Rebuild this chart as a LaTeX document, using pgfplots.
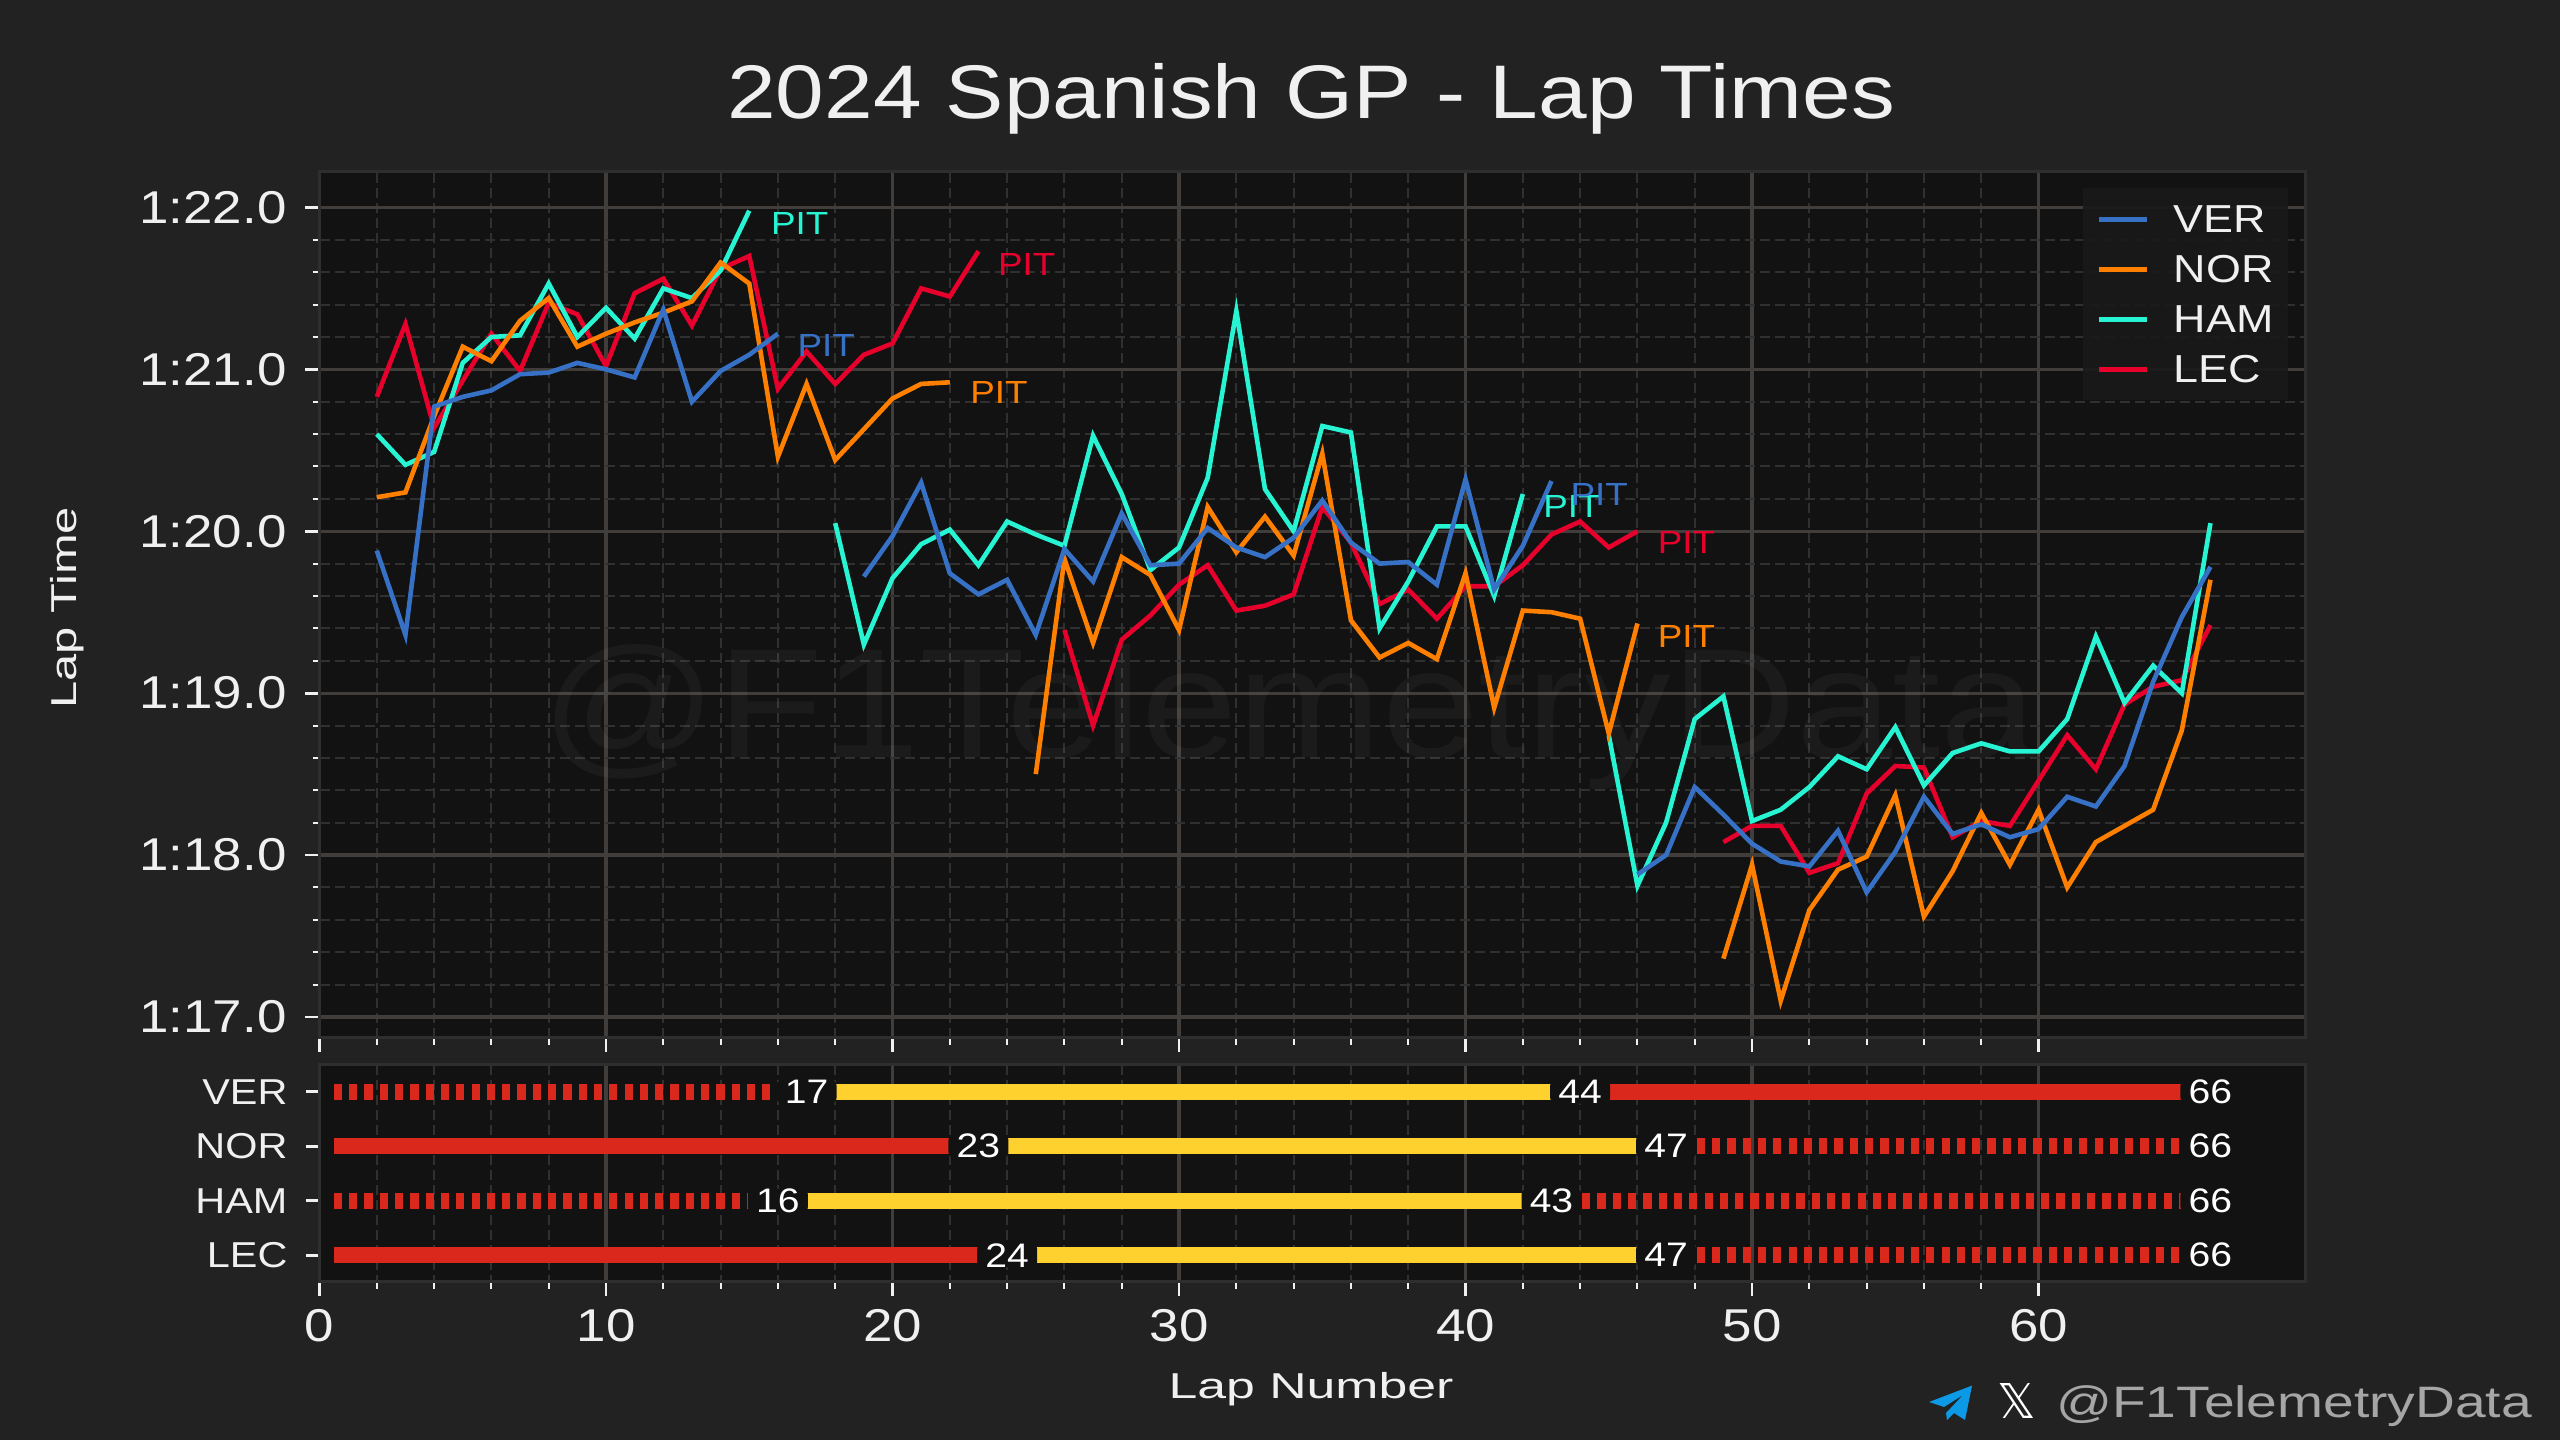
\documentclass[border=0pt]{standalone}
\usepackage{fontspec}
\usepackage{pgfplots}
\usepackage{pgfplotstable}
\pgfplotsset{compat=1.18}
\setmainfont[FakeStretch=1.15]{Liberation Sans}
\newfontfamily\dejavu{DejaVu Sans}

\definecolor{bg}{HTML}{222222}
\definecolor{panel}{HTML}{121212}
\definecolor{frame}{HTML}{2E2E2E}
\definecolor{gridmaj}{HTML}{403D3A}
\definecolor{gridmin}{HTML}{303030}
\definecolor{txt}{HTML}{F0F0F0}
\definecolor{vercol}{HTML}{3671C6}
\definecolor{norcol}{HTML}{FF8000}
\definecolor{hamcol}{HTML}{27F4D2}
\definecolor{leccol}{HTML}{E8002D}
\definecolor{softred}{HTML}{DA291C}
\definecolor{medyel}{HTML}{FFD12E}
\definecolor{tgblue}{HTML}{0C9AE6}

\newcommand{\fs}[1]{\fontsize{#1}{#1}\selectfont}

% lap times in seconds, nan = stint break
\pgfplotstableread{
lap t
2 79.88
3 79.36
4 80.77
5 80.83
6 80.87
7 80.97
8 80.98
9 81.04
10 81.00
11 80.95
12 81.37
13 80.80
14 80.99
15 81.09
16 81.22
17 nan
19 79.72
20 79.97
21 80.30
22 79.74
23 79.61
24 79.70
25 79.36
26 79.89
27 79.69
28 80.11
29 79.79
30 79.80
31 80.02
32 79.90
33 79.84
34 79.96
35 80.19
36 79.93
37 79.80
38 79.81
39 79.67
40 80.32
41 79.64
42 79.91
43 80.31
44 nan
46 77.88
47 78.00
48 78.42
49 78.25
50 78.07
51 77.96
52 77.93
53 78.15
54 77.77
55 78.02
56 78.36
57 78.13
58 78.19
59 78.11
60 78.16
61 78.36
62 78.30
63 78.55
64 79.07
65 79.47
66 79.78
}\ver

\pgfplotstableread{
lap t
2 80.21
3 80.24
4 80.71
5 81.14
6 81.05
7 81.30
8 81.44
9 81.14
10 81.22
11 81.29
12 81.35
13 81.42
14 81.66
15 81.53
16 80.46
17 80.91
18 80.44
19 80.63
20 80.82
21 80.91
22 80.92
23 nan
25 78.50
26 79.83
27 79.31
28 79.84
29 79.73
30 79.39
31 80.15
32 79.87
33 80.09
34 79.85
35 80.48
36 79.45
37 79.22
38 79.31
39 79.21
40 79.74
41 78.91
42 79.51
43 79.50
44 79.46
45 78.75
46 79.43
47 nan
49 77.36
50 77.94
51 77.10
52 77.66
53 77.91
54 77.99
55 78.37
56 77.62
57 77.90
58 78.26
59 77.94
60 78.28
61 77.80
62 78.08
63 78.18
64 78.28
65 78.77
66 79.70
}\nor

\pgfplotstableread{
lap t
2 80.60
3 80.41
4 80.49
5 81.04
6 81.20
7 81.21
8 81.53
9 81.20
10 81.38
11 81.19
12 81.50
13 81.44
14 81.61
15 81.98
16 nan
18 80.05
19 79.30
20 79.71
21 79.92
22 80.01
23 79.79
24 80.06
25 79.98
26 79.91
27 80.59
28 80.23
29 79.76
30 79.90
31 80.33
32 81.36
33 80.26
34 80.00
35 80.65
36 80.61
37 79.40
38 79.69
39 80.03
40 80.03
41 79.60
42 80.23
43 nan
45 78.74
46 77.81
47 78.20
48 78.84
49 78.98
50 78.21
51 78.28
52 78.42
53 78.61
54 78.53
55 78.79
56 78.43
57 78.63
58 78.69
59 78.64
60 78.64
61 78.84
62 79.35
63 78.94
64 79.17
65 79.00
66 80.05
}\ham

\pgfplotstableread{
lap t
2 80.83
3 81.28
4 80.64
5 80.93
6 81.22
7 80.99
8 81.41
9 81.34
10 81.02
11 81.47
12 81.56
13 81.27
14 81.62
15 81.70
16 80.88
17 81.11
18 80.91
19 81.09
20 81.16
21 81.50
22 81.45
23 81.73
24 nan
26 79.39
27 78.80
28 79.33
29 79.48
30 79.67
31 79.79
32 79.51
33 79.54
34 79.61
35 80.15
36 79.93
37 79.55
38 79.64
39 79.46
40 79.66
41 79.66
42 79.79
43 79.98
44 80.06
45 79.90
46 80.00
47 nan
49 78.08
50 78.18
51 78.18
52 77.89
53 77.95
54 78.38
55 78.55
56 78.54
57 78.11
58 78.21
59 78.18
60 78.46
61 78.74
62 78.53
63 78.93
64 79.04
65 79.08
66 79.42
}\lec

% stints: row 0 VER, 1 NOR, 2 HAM, 3 LEC
\pgfplotstableread{
lap row
0.5 1
23 1
nan nan
0.5 3
24 3
nan nan
44 0
66 0
}\softsolid
\pgfplotstableread{
lap row
17 0
44 0
nan nan
23 1
47 1
nan nan
16 2
43 2
nan nan
24 3
47 3
}\medium
\pgfplotstableread{
lap row
0.5 0
17 0
nan nan
47 1
66 1
nan nan
0.5 2
16 2
nan nan
43 2
66 2
nan nan
47 3
66 3
}\hatched

\pgfplotsset{
  f1axis/.style={
    scale only axis,
    width=992.75pt,
    anchor=south west,
    xmin=0, xmax=69.3,
    xtick={0,10,...,60},
    minor x tick num=4,
    axis background/.style={fill=panel},
    axis line style={draw=frame,line width=1.5pt},
    tick align=outside,
    xtick pos=bottom, ytick pos=left,
    tick style={color=txt},
    major tick length=7pt,
    minor tick length=3.5pt,
    every major tick/.append style={line width=1.4pt},
    every minor tick/.append style={line width=1pt},
    major grid style={draw=gridmaj,line width=1.6pt},
    minor grid style={draw=gridmin,line width=1pt,dash pattern=on 5pt off 2.5pt},
    xmajorgrids, xminorgrids,
    /pgf/number format/assume math mode=true,
    ticklabel style={text=txt},
    unbounded coords=jump,
  },
}

\begin{document}
\begin{tikzpicture}
\fill[bg,use as bounding box] (0pt,0pt) rectangle (1280pt,720pt);

\node[text=txt,font=\fs{38}] at (655.5pt,670.5pt) {2024 Spanish GP - Lap Times};
\node[text=txt,font=\fs{18},rotate=90,xscale=1.18] at (33.5pt,416pt) {Lap Time};
\node[text=txt,font=\fs{18},xscale=1.25] at (655.5pt,25.5pt) {Lap Number};

\begin{axis}[
  f1axis,
  at={(159.75pt,201pt)},
  height=433pt,
  ymin=76.87, ymax=82.219,
  ytick={77,78,79,80,81,82},
  yticklabels={1:17.0,1:18.0,1:19.0,1:20.0,1:21.0,1:22.0},
  minor y tick num=4,
  ymajorgrids, yminorgrids,
  xticklabels={},
  yticklabel style={font=\fs{23},xshift=-6pt},
  legend style={
    at={(0.9914,0.9815)},anchor=north east,
    draw=none,fill=bg!45!panel,fill opacity=0.9,text opacity=1,
    text=txt,font=\fs{19.5},
    inner xsep=7pt,inner ysep=9pt,
    row sep=12pt,
    nodes={inner sep=0pt,text height=13pt,text depth=0pt},
  },
  legend cell align=left,
  legend image code/.code={\draw[#1,line width=2.6pt] (0pt,0pt) -- (24pt,0pt); \path (37pt,0pt);},
]
\node[text=white,opacity=0.04,font=\fs{78},xscale=0.966] at (rel axis cs:0.4885,0.371) {@F1TelemetryData};

\addlegendimage{vercol}\addlegendentry{VER}
\addlegendimage{norcol}\addlegendentry{NOR}
\addlegendimage{hamcol}\addlegendentry{HAM}
\addlegendimage{leccol}\addlegendentry{LEC}

\addplot[leccol,line width=2.3pt,forget plot] table[x=lap,y=t] {\lec};
\addplot[hamcol,line width=2.3pt,forget plot] table[x=lap,y=t] {\ham};
\addplot[norcol,line width=2.3pt,forget plot] table[x=lap,y=t] {\nor};
\addplot[vercol,line width=2.3pt,forget plot] table[x=lap,y=t] {\ver};

\pgfplotsset{pitlab/.style={draw=none,mark=none,forget plot,
  nodes near coords={PIT},
  nodes near coords align={anchor=west},
  every node near coord/.append style={inner sep=0pt,font=\fs{16},text=#1}}}
\addplot[pitlab=leccol] coordinates {(23.67,81.65) (46.7,79.93)};
\addplot[pitlab=norcol] coordinates {(22.7,80.86) (46.7,79.35)};
\addplot[pitlab=hamcol] coordinates {(15.75,81.90) (42.7,80.15)};
\addplot[pitlab=vercol] coordinates {(16.67,81.15) (43.65,80.23)};
\end{axis}

\begin{axis}[
  f1axis,
  at={(159.75pt,79pt)},
  height=108.5pt,
  y dir=reverse,
  ymin=-0.49, ymax=3.49,
  ytick={0,1,2,3},
  yticklabels={VER,NOR,HAM,LEC},
  yticklabel style={font=\fs{18},xshift=-5.5pt},
  xticklabel style={font=\fs{23},yshift=-3pt},
]
\addplot[softred,line width=8pt,line cap=butt] table[x=lap,y=row] {\softsolid};
\addplot[medyel,line width=8pt,line cap=butt] table[x=lap,y=row] {\medium};
\addplot[softred,line width=8pt,line cap=butt,dash pattern=on 4.1pt off 3.55pt] table[x=lap,y=row] {\hatched};
\addplot[draw=none,mark=none,
  point meta=explicit symbolic,
  nodes near coords,
  nodes near coords align={anchor=center},
  every node near coord/.append style={fill=panel,text=white,font=\fs{17},inner sep=0pt,
    minimum width=30pt,minimum height=12pt,rounded corners=3pt},
] coordinates {
  (17,0)[17] (44,0)[44] (66,0)[66]
  (23,1)[23] (47,1)[47] (66,1)[66]
  (16,2)[16] (43,2)[43] (66,2)[66]
  (24,3)[24] (47,3)[47] (66,3)[66]
};
\end{axis}

% footer handle
\fill[tgblue] (986pt,27.2pt) -- (964.5pt,19pt) -- (972pt,16.5pt) -- (981.5pt,22.5pt) -- (973pt,13.5pt) -- (973.5pt,10pt) -- (977pt,13.5pt) -- (982.5pt,10pt) -- cycle;
\node[text=white,font=\dejavu\fs{24},anchor=base] at (1008.5pt,10.5pt) {𝕏};
\node[text=black!35!white,font=\fs{22},xscale=1.09,anchor=base] at (1147pt,11pt) {@F1TelemetryData};
\end{tikzpicture}
\end{document}
